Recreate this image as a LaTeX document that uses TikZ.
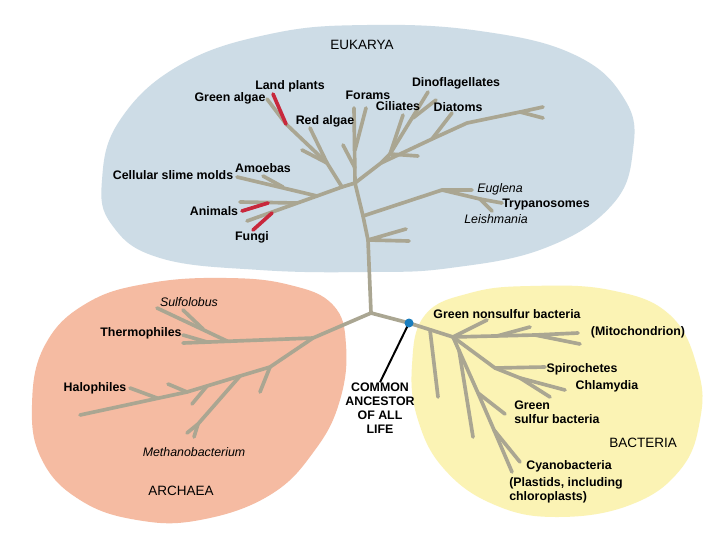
\documentclass[tikz,border=0pt]{standalone}
\usepackage{fontspec}
\setmainfont{Liberation Sans}
\usetikzlibrary{positioning}
\definecolor{eukBlue}{RGB}{205,220,230}
\definecolor{archPink}{RGB}{245,187,162}
\definecolor{bactYellow}{RGB}{251,243,180}
\definecolor{branchGray}{RGB}{170,166,146}
\definecolor{plantRed}{RGB}{200,40,60}
\definecolor{dotBlue}{RGB}{25,125,190}

\begin{document}
\begin{tikzpicture}[x=0.025cm, y=-0.025cm,
  branch/.style={branchGray, line width=2.6pt, line cap=round, line join=round},
  redbranch/.style={plantRed, line width=2.6pt, line cap=round},
  lbl/.style={inner sep=0pt, font=\fontsize{8.8}{10}\selectfont\bfseries},
  itlbl/.style={inner sep=0pt, font=\fontsize{8.8}{10}\selectfont\itshape},
  domainlbl/.style={inner sep=0pt, font=\fontsize{9.6}{11}\selectfont}]
\fill[white] (0,0) rectangle (720,540);
\useasboundingbox (0,0) rectangle (720,540);

% the three domains
\fill[eukBlue] plot[smooth cycle, tension=0.7] coordinates {(367,25) (480,31) (575,55) (625,100) (633,150) (612,205) (545,248) (450,268) (367,272) (260,270) (160,258) (112,225) (102,180) (120,120) (180,65) (270,34)};
\fill[archPink] plot[smooth cycle, tension=0.7] coordinates {(227,278) (290,285) (333,305) (346,345) (340,400) (315,450) (270,495) (200,520) (137,520) (80,500) (42,460) (32,405) (45,345) (87,303) (150,283)};
\fill[bactYellow] plot[smooth cycle, tension=0.7] coordinates {(530,286) (610,290) (670,315) (698,370) (700,420) (680,470) (630,505) (557,517) (495,505) (445,470) (418,420) (412,365) (425,315) (470,293)};

% Eukarya
\coordinate (euk) at (355,183);
\coordinate (root) at (371,313);
\coordinate (t1) at (363,216);
\coordinate (t2) at (368,240);
\draw[branch] (euk) -- (t1) -- (t2) -- (root);
\coordinate (eugJ) at (442,190);
\coordinate (eugK) at (480,199);
\coordinate (eugEnd) at (472,190);
\coordinate (tryEnd) at (502,203);
\coordinate (leiEnd) at (492,211);
\draw[branch] (t1) -- (eugJ) -- (eugEnd);
\draw[branch] (eugJ) -- (eugK) -- (tryEnd);
\draw[branch] (eugK) -- (leiEnd);
\coordinate (tw1) at (406,229);
\coordinate (tw2) at (409,241);
\draw[branch] (tw1) -- (t2) -- (tw2);

\coordinate (p0) at (342,187);
\coordinate (l1) at (317,196);
\coordinate (l2) at (247,221);
\draw[branch] (euk) -- (p0) -- (l1) -- (l2);
\coordinate (pk) at (327,163);
\coordinate (pj) at (286,124);
\coordinate (gaEnd) at (267,99);
\coordinate (lpEnd) at (273,94);
\coordinate (raEnd) at (310,128);
\coordinate (pt) at (302,150);
\draw[branch] (p0) -- (pk) -- (pj) -- (gaEnd);
\draw[branch] (pk) -- (raEnd);
\draw[branch] (pk) -- (pt);
\draw[redbranch] (pj) -- (lpEnd);
\coordinate (smEnd) at (237,177);
\coordinate (amEnd) at (263,176);
\coordinate (amJ) at (283,187);
\draw[branch] (smEnd) -- (l1);
\draw[branch] (amEnd) -- (amJ);
\coordinate (anJ) at (297,203);
\coordinate (anEnd) at (240,202);
\coordinate (anRedA) at (268,203);
\coordinate (anRedB) at (242,211);
\draw[branch] (anJ) -- (anEnd);
\draw[redbranch] (anRedA) -- (anRedB);
\coordinate (fuJ) at (272,213);
\coordinate (fuEnd) at (253,230);
\draw[redbranch] (fuJ) -- (fuEnd);

\coordinate (foEnd) at (354,108);
\coordinate (foB) at (366,108);
\coordinate (foJ) at (355,150);
\coordinate (foC) at (343,145);
\coordinate (foK) at (355,168);
\draw[branch] (euk) -- (foEnd);
\draw[branch] (foB) -- (foJ);
\draw[branch] (foC) -- (foK);

\coordinate (r1) at (381,163);
\coordinate (dj) at (390,154);
\coordinate (dinoEnd) at (428,92);
\coordinate (dinoB) at (436,100);
\coordinate (dinoK) at (413,118);
\coordinate (cilEnd) at (403,115);
\coordinate (twR) at (418,156);
\draw[branch] (euk) -- (r1) -- (dj) -- (dinoEnd);
\draw[branch] (dinoB) -- (dinoK);
\draw[branch] (dj) -- (cilEnd);
\draw[branch] (dj) -- (twR);
\coordinate (diaJ) at (432,139);
\coordinate (diaEnd) at (452,113);
\coordinate (rl1) at (467,123);
\coordinate (rl2) at (520,112);
\coordinate (rlEnd1) at (543,107);
\coordinate (rlEnd2) at (543,118);
\draw[branch] (r1) -- (diaJ) -- (rl1) -- (rl2) -- (rlEnd1);
\draw[branch] (rl2) -- (rlEnd2);
\draw[branch] (diaJ) -- (diaEnd);

% Archaea
\coordinate (a0) at (313,338);
\coordinate (thEnd) at (183,343);
\coordinate (thB) at (183,335);
\coordinate (thJ) at (207,342);
\coordinate (suEnd) at (157,308);
\coordinate (suJ) at (227,341);
\coordinate (suB) at (183,310);
\coordinate (suK) at (203,329);
\draw[branch] (root) -- (a0) -- (thEnd);
\draw[branch] (thB) -- (thJ);
\draw[branch] (suEnd) -- (suJ);
\draw[branch] (suB) -- (suK);
\coordinate (h1) at (270,367);
\coordinate (h2) at (240,376);
\coordinate (h3) at (187,392);
\coordinate (h4) at (80,415);
\draw[branch] (a0) -- (h1) -- (h2) -- (h3) -- (h4);
\coordinate (h1End) at (260,392);
\draw[branch] (h1) -- (h1End);
\coordinate (haEnd) at (130,388);
\coordinate (haJ) at (157,398);
\draw[branch] (haEnd) -- (haJ);
\coordinate (hB) at (168,384);
\draw[branch] (hB) -- (h3);
\coordinate (hCJ) at (207,386);
\coordinate (hC) at (192,404);
\draw[branch] (hCJ) -- (hC);
\coordinate (mj) at (198,424);
\coordinate (meEnd1) at (187,433);
\coordinate (meEnd2) at (194,437);
\draw[branch] (h2) -- (mj) -- (meEnd1);
\draw[branch] (mj) -- (meEnd2);

% Bacteria
\coordinate (dot) at (409,323);
\coordinate (b1) at (453,337);
\coordinate (bv) at (430,330);
\coordinate (bvEnd) at (438,397);
\draw[branch] (root) -- (dot) -- (b1);
\draw[branch] (bv) -- (bvEnd);
\coordinate (gnEnd) at (487,320);
\draw[branch] (b1) -- (gnEnd);
\coordinate (miJ) at (535,335);
\coordinate (miEnd1) at (578,333);
\coordinate (miEnd2) at (580,344);
\coordinate (miB) at (497,336);
\coordinate (miC) at (530,327);
\draw[branch] (b1) -- (miJ) -- (miEnd1);
\draw[branch] (miJ) -- (miEnd2);
\draw[branch] (miB) -- (miC);
\coordinate (sj) at (495,368);
\coordinate (spEnd) at (545,367);
\coordinate (cj) at (520,378);
\coordinate (chEnd) at (565,390);
\coordinate (chEnd2) at (550,397);
\draw[branch] (b1) -- (sj) -- (cj) -- (chEnd);
\draw[branch] (sj) -- (spEnd);
\draw[branch] (cj) -- (chEnd2);
\coordinate (gsJ) at (478,393);
\coordinate (gsEnd) at (505,414);
\coordinate (cyJ) at (494,430);
\coordinate (cyEnd) at (512,472);
\coordinate (cyB) at (520,462);
\draw[branch] (b1) -- (gsJ) -- (cyJ) -- (cyEnd);
\draw[branch] (gsJ) -- (gsEnd);
\draw[branch] (cyJ) -- (cyB);
\coordinate (b2J) at (459,350);
\coordinate (b2End) at (473,437);
\draw[branch] (b2J) -- (b2End);

% labels
\node[domainlbl] (eukLbl) at (362,45) {EUKARYA};
\node[lbl] (lpLbl) at (290,86) {Land plants};
\node[lbl] (gaLbl) at (230,98) {Green algae};
\node[lbl] (foLbl) at (368,95) {Forams};
\node[lbl] (ciLbl) at (398,106) {Ciliates};
\node[lbl] (dnLbl) at (456,83) {Dinoflagellates};
\node[lbl] (diLbl) at (458,107) {Diatoms};
\node[lbl] (raLbl) at (325,121) {Red algae};
\node[lbl] (amLbl) at (263,168) {Amoebas};
\node[lbl] (smLbl) at (173,175) {Cellular slime molds};
\node[lbl] (anLbl) at (214,211) {Animals};
\node[lbl] (fuLbl) at (252,237) {Fungi};
\node[itlbl] (egLbl) at (500,189) {Euglena};
\node[lbl] (trLbl) at (546,205) {Trypanosomes};
\node[itlbl] (leLbl) at (496,219) {Leishmania};
\node[itlbl] (suLbl) at (189,302) {Sulfolobus};
\node[lbl] (thLbl) at (141,333) {Thermophiles};
\node[lbl] (haLbl) at (95,388) {Halophiles};
\node[itlbl] (meLbl) at (194,452) {Methanobacterium};
\node[domainlbl] (arLbl) at (181,491) {ARCHAEA};
\node[lbl] (gnLbl) at (507,314) {Green nonsulfur bacteria};
\node[lbl] (miLbl) at (638,332) {(Mitochondrion)};
\node[lbl] (spLbl) at (582,369) {Spirochetes};
\node[lbl] (chLbl) at (607,386) {Chlamydia};
\node[lbl, align=left, anchor=west] (gsLbl) at (514,412) {Green\\sulfur bacteria};
\node[domainlbl] (baLbl) at (643,443) {BACTERIA};
\node[lbl] (cyLbl) at (569,466) {Cyanobacteria};
\node[lbl, align=left, anchor=west] (plLbl) at (509,490) {(Plastids, including\\chloroplasts)};
\node[lbl, align=center] (anc) at (380,408) {COMMON\\ANCESTOR\\OF ALL\\LIFE};

% common ancestor
\draw[black, line width=1.4pt] (dot) -- (anc.north);
\fill[dotBlue] (dot) circle (3.2pt);
\end{tikzpicture}
\end{document}
